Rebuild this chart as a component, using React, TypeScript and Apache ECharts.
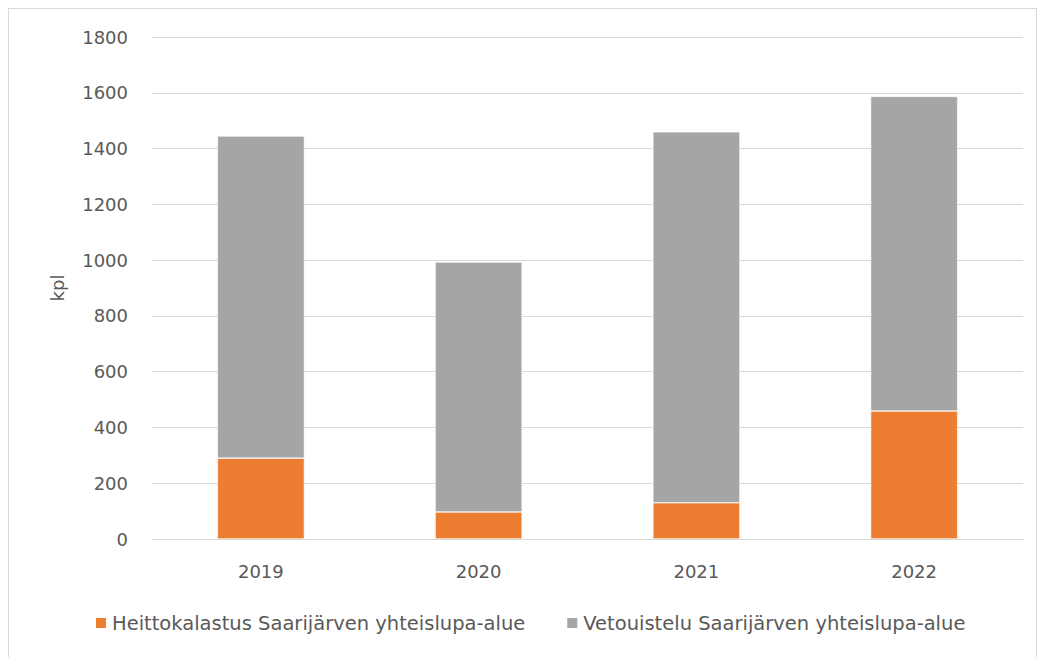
import React, { useEffect, useRef } from "react";
import * as echarts from "echarts";

const years = ["2019", "2020", "2021", "2022"];
const heittokalastus = [290, 97, 130, 459];
const vetouistelu = [1155, 896, 1330, 1128];
const seriesNames = [
  "Heittokalastus Saarijärven yhteislupa-alue",
  "Vetouistelu Saarijärven yhteislupa-alue",
];
const yAxisTitle = "kpl";

const FONT = "'DejaVu Sans', sans-serif";
const TEXT = "#595959";

export default function App() {
  const ref = useRef<HTMLDivElement>(null);
  useEffect(() => {
    if (!ref.current) return;
    const chart = echarts.init(ref.current, undefined, { renderer: "svg" });
    chart.setOption({
      animation: false,
      textStyle: { fontFamily: FONT },
      grid: { left: 143, right: 13, top: 28, bottom: 132 },
      legend: {
        left: 80,
        top: 599,
        itemWidth: 12,
        itemHeight: 12,
        itemGap: 40,
        icon: "rect",
        textStyle: { fontFamily: FONT, fontSize: 19.5, color: TEXT },
        data: seriesNames,
      },
      xAxis: {
        type: "category",
        data: years,
        axisLine: { show: true, lineStyle: { color: "#d9d9d9", width: 1 } },
        axisTick: { show: false },
        axisLabel: { color: TEXT, fontSize: 18, fontFamily: FONT, margin: 23 },
      },
      yAxis: {
        type: "value",
        min: 0,
        max: 1800,
        interval: 200,
        name: yAxisTitle,
        nameLocation: "middle",
        nameGap: 86,
        nameRotate: 90,
        nameTextStyle: { color: TEXT, fontSize: 18, fontFamily: FONT },
        axisLine: { show: false },
        axisTick: { show: false },
        axisLabel: {
          color: TEXT,
          fontSize: 18,
          fontFamily: FONT,
          margin: 24,
          formatter: (v: number) => String(v),
        },
        splitLine: { lineStyle: { color: "#d9d9d9", width: 1 } },
      },
      series: [
        {
          name: seriesNames[0],
          type: "bar",
          stack: "total",
          data: heittokalastus,
          barWidth: "40%",
          itemStyle: { color: "#ED7D31", borderColor: "#ffffff", borderWidth: 0.6 },
        },
        {
          name: seriesNames[1],
          type: "bar",
          stack: "total",
          data: vetouistelu,
          barWidth: "40%",
          itemStyle: { color: "#A5A5A5", borderColor: "#ffffff", borderWidth: 0.6 },
        },
      ],
    });
    return () => chart.dispose();
  }, []);
  return (
    <div
      style={{
        width: 1029,
        height: 664,
        border: "1px solid #d9d9d9",
        boxSizing: "border-box",
        background: "#fff",
      }}
    >
      <div ref={ref} style={{ width: 1027, height: 662 }} />
    </div>
  );
}
